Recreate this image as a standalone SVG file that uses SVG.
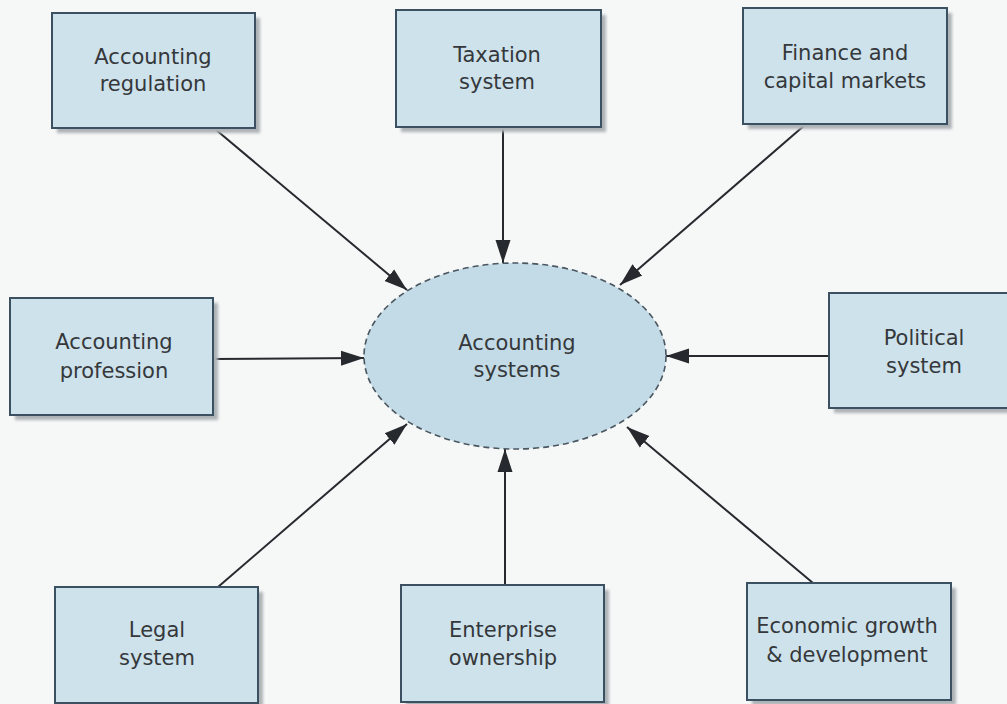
<svg xmlns="http://www.w3.org/2000/svg" width="1007" height="704" viewBox="0 0 1007 704">
  <defs>
    <style>
      .box { fill: #cde2eb; stroke: #3b5060; stroke-width: 2; }
      .shadow { fill: #adb2b6; filter: url(#soft); }
      .hub { fill: #c2dbe6; stroke: #4a5660; stroke-width: 1.6; stroke-dasharray: 6 4; }
      .label { font-family: "DejaVu Sans", "Liberation Sans", sans-serif; font-size: 21px; fill: #35383b; text-anchor: middle; }
      .link { stroke: #262a2e; stroke-width: 2; fill: none; marker-end: url(#arrow); }
    </style>
    <filter id="soft" x="-10%" y="-10%" width="120%" height="120%">
      <feGaussianBlur stdDeviation="1.5"/>
    </filter>
    <marker id="arrow" markerUnits="userSpaceOnUse" markerWidth="24" markerHeight="18" viewBox="0 0 24 18" refX="23" refY="9" orient="auto">
      <path d="M0,1.5 L23,9 L0,16.5 Z" fill="#262a2e"/>
    </marker>
  </defs>

  <rect x="0" y="0" width="1007" height="704" fill="#f6f7f7"/>

  <!-- connectors -->
  <g id="connectors">
    <line class="link" x1="215" y1="129" x2="407" y2="290"/>
    <line class="link" x1="503" y1="127" x2="503" y2="263"/>
    <line class="link" x1="806" y1="124" x2="620" y2="285"/>
    <line class="link" x1="213" y1="359" x2="364" y2="358"/>
    <line class="link" x1="829" y1="356" x2="666" y2="356"/>
    <line class="link" x1="218" y1="587" x2="407" y2="424"/>
    <line class="link" x1="505" y1="585" x2="505" y2="449"/>
    <line class="link" x1="813" y1="583" x2="627" y2="427"/>
  </g>

  <!-- central node -->
  <g id="accounting-systems">
    <ellipse class="hub" cx="515" cy="356" rx="151" ry="93"/>
    <text class="label" x="517" y="350">Accounting</text>
    <text class="label" x="517" y="377">systems</text>
  </g>

  <g id="accounting-regulation">
    <rect class="shadow" x="57" y="18" width="203" height="115"/>
    <rect class="box" x="52" y="13" width="203" height="115"/>
    <text class="label" x="153" y="64">Accounting</text>
    <text class="label" x="153" y="91">regulation</text>
  </g>

  <g id="taxation-system">
    <rect class="shadow" x="401" y="15" width="205" height="117"/>
    <rect class="box" x="396" y="10" width="205" height="117"/>
    <text class="label" x="497" y="62">Taxation</text>
    <text class="label" x="497" y="89">system</text>
  </g>

  <g id="finance-capital-markets">
    <rect class="shadow" x="748" y="13" width="204" height="116"/>
    <rect class="box" x="743" y="8" width="204" height="116"/>
    <text class="label" x="845" y="60">Finance and</text>
    <text class="label" x="845" y="88">capital markets</text>
  </g>

  <g id="accounting-profession">
    <rect class="shadow" x="15" y="303" width="203" height="117"/>
    <rect class="box" x="10" y="298" width="203" height="117"/>
    <text class="label" x="114" y="349">Accounting</text>
    <text class="label" x="114" y="378">profession</text>
  </g>

  <g id="political-system">
    <rect class="shadow" x="834" y="298" width="190" height="115"/>
    <rect class="box" x="829" y="293" width="190" height="115"/>
    <text class="label" x="924" y="345">Political</text>
    <text class="label" x="924" y="373">system</text>
  </g>

  <g id="legal-system">
    <rect class="shadow" x="60" y="592" width="203" height="120"/>
    <rect class="box" x="55" y="587" width="203" height="116"/>
    <text class="label" x="157" y="637">Legal</text>
    <text class="label" x="157" y="665">system</text>
  </g>

  <g id="enterprise-ownership">
    <rect class="shadow" x="406" y="590" width="203" height="120"/>
    <rect class="box" x="401" y="585" width="203" height="117"/>
    <text class="label" x="503" y="637">Enterprise</text>
    <text class="label" x="503" y="665">ownership</text>
  </g>

  <g id="economic-growth-development">
    <rect class="shadow" x="752" y="588" width="204" height="117"/>
    <rect class="box" x="747" y="583" width="204" height="117"/>
    <text class="label" x="847" y="633">Economic growth</text>
    <text class="label" x="847" y="662">&amp; development</text>
  </g>
</svg>
